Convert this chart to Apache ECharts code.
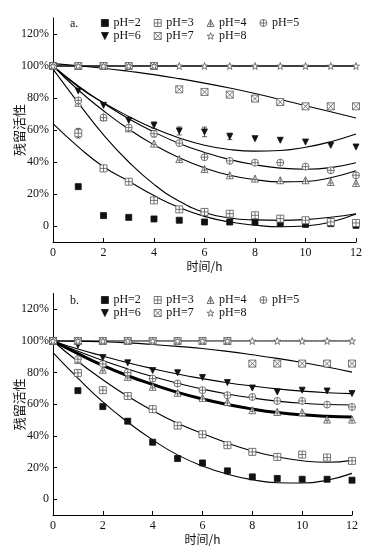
<!DOCTYPE html>
<html>
<head>
<meta charset="utf-8">
<script src="https://cdn.jsdelivr.net/npm/echarts@6/dist/echarts.min.js"></script>
<style>
  html, body { margin: 0; padding: 0; background: #fff; }
  #chart { width: 380px; height: 556px; }
</style>
</head>
<body>
<div id="chart"></div>
<script>
// time points (h)
const hours = [0, 1, 2, 3, 4, 5, 6, 7, 8, 9, 10, 11, 12]
const yTicks = [0, 20, 40, 60, 80, 100, 120]
const names = ['pH=2', 'pH=3', 'pH=4', 'pH=5', 'pH=6', 'pH=7', 'pH=8']

// panel a. measured points (%)
const aPH2 = [100, 24.6, 6.5, 5.4, 4.4, 3.6, 2.5, 2.5, 2.5, 1.5, 1, 1.5, 0.4]
const aPH3 = [100, 58, 36, 27.7, 16, 10.4, 8.8, 7.7, 6.7, 4.6, 3.6, 2.5, 1.9]
const aPH4 = [100, 77, 68, 61, 51.5, 41.8, 35.6, 31.7, 29.6, 28.6, 28.6, 27.5, 26.9]
const aPH5 = [100, 78.5, 67.7, 61.5, 57.7, 51.8, 43, 40.7, 39.6, 39.6, 37.1, 34.8, 31.7]
const aPH6 = [100, 84.4, 75.4, 66, 63, 59.4, 58.8, 56, 54.6, 53.6, 52.5, 50.4, 49.4]
const aPH7 = [100, 100, 100, 100, 100, 85.4, 83.8, 82.1, 79.6, 77.5, 74.8, 74.8, 74.8]
const aPH8 = [100, 100, 100, 100, 100, 100, 100, 100, 100, 100, 100, 100, 100]

// panel a. error bars (± %), only the visible ones
const aErr3 = [0, 3, 0, 0, 0, 0, 0, 0, 0, 0, 0, 0, 0]
const aErr5 = [0, 0, 0, 0, 2, 0, 0, 0, 0, 0, 0, 0, 0]
const aErr6 = [0, 0, 0, 0, 2, 2.5, 3, 2, 0, 0, 0, 0, 0]

// panel a. fitted curves read at each hour (%)
const aFit2 = [64, 49.5, 37, 28, 19, 11.5, 6, 2.5, 0.5, -0.5, 0, 2.5, 7.5]
const aFit3 = [98, 77, 57, 40, 26, 15.5, 8.5, 5, 3.8, 3.5, 4, 5.5, 7.7]
const aFit4 = [100, 85, 72, 60.5, 50.7, 42.6, 36.3, 31.7, 29, 27.6, 27.8, 30.2, 34.5]
const aFit5 = [100, 87.5, 76.7, 67, 58.7, 51.6, 46, 41.5, 38.3, 36.2, 35.5, 36.5, 39.5]
const aFit6 = [100, 87, 77, 68.5, 61, 55, 50.5, 47.8, 46.8, 47.2, 49.2, 52.7, 57.5]
const aFit7 = [101.5, 100.2, 98.6, 96.7, 94.6, 92.1, 89.3, 86.2, 82.8, 79.1, 75.2, 71.4, 67.5]
const aFit8 = [100, 100, 100, 100, 100, 100, 100, 100, 100, 100, 100, 100, 100]

// panel b. measured points (%)
const bPH2 = [100, 68.6, 58.5, 49.3, 36, 25.7, 22.9, 17.9, 14.1, 13.1, 12.6, 12.6, 12]
const bPH3 = [100, 79.8, 68.9, 65.2, 56.9, 46.5, 41, 34.1, 29.9, 26.7, 28.2, 26.3, 24.2]
const bPH4 = [100, 88, 81.8, 77.3, 71, 67.2, 64, 61.5, 56.2, 55.1, 54.9, 50.3, 50.3]
const bPH5 = [100, 88.5, 85.5, 80, 76.2, 73.1, 68.9, 65.7, 64.6, 62.1, 62.1, 59.8, 58.3]
const bPH6 = [100, 97.3, 89.5, 86.2, 81.3, 79.9, 76.9, 73.7, 70.3, 67.8, 68.9, 68.4, 66.8]
const bPH7 = [100, 100, 100, 100, 100, 100, 100, 100, 85.7, 85.7, 85.7, 85.7, 85.7]
const bPH8 = [100, 100, 100, 100, 100, 100, 100, 100, 100, 100, 100, 100, 100]

// panel b. error bars (± %)
const bErr3 = [0, 0, 0, 0, 0, 1.5, 1.5, 0, 0, 0, 0, 0, 0]

// panel b. fitted curves read at each hour (%)
const bFit2 = [92.7, 76.5, 61.5, 48.7, 37.5, 28, 21, 15.8, 12.3, 10.4, 10.2, 12, 16.3]
const bFit3 = [100, 87, 75.5, 65, 56, 48, 41.5, 35.5, 30.5, 26.8, 24.3, 23.3, 24.5]
const bFit4 = [100, 92, 84.5, 78, 72.5, 67.5, 63.3, 59.8, 57, 54.8, 53.3, 52.4, 52]
const bFit5 = [100, 93.5, 87.6, 82.3, 77.5, 73.3, 69.6, 66.5, 64, 62, 60.6, 59.8, 59.5]
const bFit6 = [100, 94.9, 90.5, 86.3, 82.5, 79.1, 76.2, 73.6, 71.5, 69.7, 68.3, 67.3, 66.7]
const bFit7 = [100, 99.9, 99.5, 98.8, 97.8, 96.6, 95.2, 93.4, 91.3, 89, 86.4, 83.5, 80.3]
const bFit8 = [100, 100, 100, 100, 100, 100, 100, 100, 100, 100, 100, 100, 100]

const FONT = "'Liberation Serif', 'Noto Sans CJK SC', serif"
const CJK = "'Noto Sans CJK SC', sans-serif"

// marker shapes
const markers = {
  'pH=2': { symbol: 'rect', color: '#111', border: '#111', size: 6 },
  'pH=3': { symbol: 'path://M0,0L10,0L10,10L0,10ZM5,0L5,10M0,5L10,5', color: '#fff', border: '#555', size: 7 },
  'pH=4': { symbol: 'path://M5,0L10,10L0,10ZM5,0L5,10M2,6.5L8,6.5', color: '#fff', border: '#555', size: 7 },
  'pH=5': { symbol: 'path://M0,5A5,5 0 1,1 10,5A5,5 0 1,1 0,5ZM5,0L5,10M0,5L10,5', color: '#fff', border: '#555', size: 7 },
  'pH=6': { symbol: 'path://M0,0L10,0L5,10Z', color: '#111', border: '#111', size: 6 },
  'pH=7': { symbol: 'path://M0,0L10,0L10,10L0,10ZM0,0L10,10M10,0L0,10', color: '#fff', border: '#555', size: 7 },
  'pH=8': { symbol: 'path://M5,0L6.2,3.6L10,3.6L6.9,5.9L8.1,9.5L5,7.3L1.9,9.5L3.1,5.9L0,3.6L3.8,3.6Z', color: '#fff', border: '#555', size: 7 }
}

function pairs (vals) {
  return hours.map((h, i) => [h, vals[i]])
}

function scatter (name, vals, idx) {
  let m = markers[name]
  return {
    name: name,
    type: 'scatter',
    xAxisIndex: idx,
    yAxisIndex: idx,
    symbol: m.symbol,
    symbolSize: m.size,
    itemStyle: { color: m.color, borderColor: m.border, borderWidth: 0.8, opacity: 1 },
    z: 5,
    data: pairs(vals)
  }
}

function fit (vals, idx, width) {
  return {
    type: 'line',
    xAxisIndex: idx,
    yAxisIndex: idx,
    smooth: true,
    symbol: 'none',
    silent: true,
    lineStyle: { color: '#000', width: width || 1.1 },
    z: 2,
    data: pairs(vals)
  }
}

// error bars: [x, low, high]
function errorBars (vals, errs, idx) {
  let data = []
  hours.forEach((h, i) => {
    if (errs[i] > 0) data.push([h, vals[i] - errs[i], vals[i] + errs[i]])
  })
  return {
    type: 'custom',
    xAxisIndex: idx,
    yAxisIndex: idx,
    silent: true,
    z: 4,
    renderItem: (params, api) => {
      let lo = api.coord([api.value(0), api.value(1)])
      let hi = api.coord([api.value(0), api.value(2)])
      let style = { stroke: '#333', lineWidth: 0.8 }
      return {
        type: 'group',
        children: [
          { type: 'line', shape: { x1: hi[0], y1: hi[1], x2: lo[0], y2: lo[1] }, style: style },
          { type: 'line', shape: { x1: hi[0] - 2.5, y1: hi[1], x2: hi[0] + 2.5, y2: hi[1] }, style: style },
          { type: 'line', shape: { x1: lo[0] - 2.5, y1: lo[1], x2: lo[0] + 2.5, y2: lo[1] }, style: style }
        ]
      }
    },
    encode: { x: 0, y: [1, 2] },
    data: data
  }
}

function xAxisCfg (idx) {
  return {
    type: 'value',
    gridIndex: idx,
    min: 0,
    max: 12,
    interval: 2,
    name: '时间/h',
    nameLocation: 'middle',
    nameGap: 18,
    nameMoveOverlap: false,
    nameTextStyle: { fontFamily: CJK, fontSize: 12, color: '#111' },
    axisLine: { onZero: false, lineStyle: { color: '#000', width: 1 } },
    axisTick: { inside: true, length: 4, lineStyle: { color: '#000' } },
    axisLabel: { fontFamily: FONT, fontSize: 12, color: '#111', margin: 5 },
    splitLine: { show: false }
  }
}

function yAxisCfg (idx) {
  return {
    type: 'value',
    gridIndex: idx,
    min: -10,
    max: 130,
    name: '残留活性',
    nameLocation: 'middle',
    nameGap: 27,
    nameRotate: 90,
    nameMoveOverlap: false,
    nameTextStyle: { fontFamily: CJK, fontSize: 13, color: '#111' },
    axisLine: { lineStyle: { color: '#000', width: 1 } },
    axisTick: { inside: true, length: 4, customValues: yTicks, lineStyle: { color: '#000' } },
    axisLabel: {
      fontFamily: FONT, fontSize: 12, color: '#111', margin: 4,
      customValues: yTicks,
      formatter: v => (v === 0 ? '0' : v + '%')
    },
    splitLine: { show: false }
  }
}

function legendRow (items, left, top) {
  return {
    data: items.map(n => ({ name: n, icon: markers[n].symbol })),
    left: left,
    top: top,
    padding: 0,
    itemWidth: 7,
    itemHeight: 7,
    itemGap: 13,
    selectedMode: false,
    itemStyle: { borderWidth: 0.8 },
    textStyle: { fontFamily: FONT, fontSize: 12, color: '#111', width: 41 }
  }
}

let myChart = echarts.init(document.getElementById('chart'))

let series = []
const aPts = [aPH2, aPH3, aPH4, aPH5, aPH6, aPH7, aPH8]
const aFits = [aFit2, aFit3, aFit4, aFit5, aFit6, aFit7, aFit8]
const bPts = [bPH2, bPH3, bPH4, bPH5, bPH6, bPH7, bPH8]
const bFits = [bFit2, bFit3, bFit4, bFit5, bFit6, bFit7, bFit8]

aFits.forEach((f, i) => series.push(fit(f, 0, i === 6 ? 1.5 : 1.1)))
bFits.forEach((f, i) => series.push(fit(f, 1, i === 2 ? 3 : (i === 6 ? 1 : 1.1))))
series.push(errorBars(aPH3, aErr3, 0))
series.push(errorBars(aPH5, aErr5, 0))
series.push(errorBars(aPH6, aErr6, 0))
series.push(errorBars(bPH3, bErr3, 1))
names.forEach((n, i) => series.push(scatter(n, aPts[i], 0)))
names.forEach((n, i) => series.push(scatter(n, bPts[i], 1)))

myChart.setOption({
  backgroundColor: '#fff',
  animation: false,
  title: [
    { text: 'a.', left: 65, top: 13, textStyle: { fontFamily: FONT, fontSize: 12, fontWeight: 'normal', color: '#111' } },
    { text: 'b.', left: 65, top: 290, textStyle: { fontFamily: FONT, fontSize: 12, fontWeight: 'normal', color: '#111' } }
  ],
  legend: [
    legendRow(names.slice(0, 4), 101, 17),
    legendRow(names.slice(4), 101, 30),
    legendRow(names.slice(0, 4), 101, 294),
    legendRow(names.slice(4), 101, 307)
  ],
  grid: [
    { left: 53, right: 24, top: 18, height: 224, outerBoundsMode: 'none', containLabel: false },
    { left: 53, right: 28, top: 293.5, height: 221.5, outerBoundsMode: 'none', containLabel: false }
  ],
  xAxis: [xAxisCfg(0), xAxisCfg(1)],
  yAxis: [yAxisCfg(0), yAxisCfg(1)],
  series: series
})
</script>
</body>
</html>
